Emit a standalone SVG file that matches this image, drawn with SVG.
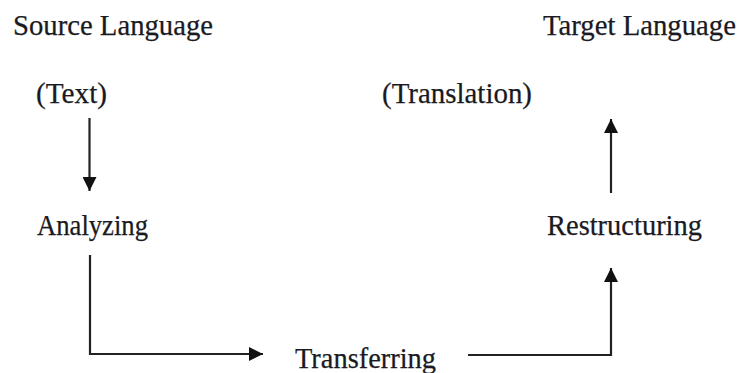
<svg xmlns="http://www.w3.org/2000/svg" width="740" height="373" viewBox="0 0 740 373">
<defs>
<style>
.lbl{font-family:"Liberation Serif","Times New Roman",serif;font-size:29px;fill:#1a1a22;stroke:#1a1a22;stroke-width:0.25;}
.conn{fill:none;stroke:#222;stroke-width:2.2;}
</style>
<marker id="ah2" viewBox="0 0 10 10" refX="10" refY="5" markerWidth="14" markerHeight="14" markerUnits="userSpaceOnUse" orient="auto">
<path d="M0,0 L10,5 L0,10 z" fill="#111"/>
</marker>
</defs>
<rect width="740" height="373" fill="#fff"/>
<g id="source-language"><text class="lbl" x="13" y="35" textLength="200" lengthAdjust="spacingAndGlyphs">Source Language</text></g>
<g id="target-language"><text class="lbl" x="543" y="35" textLength="193" lengthAdjust="spacingAndGlyphs">Target Language</text></g>
<g id="text"><text class="lbl" x="36" y="103" textLength="71" lengthAdjust="spacingAndGlyphs">(Text)</text></g>
<g id="translation"><text class="lbl" x="382" y="103" textLength="150" lengthAdjust="spacingAndGlyphs">(Translation)</text></g>
<g id="analyzing"><text class="lbl" x="37" y="235" textLength="111" lengthAdjust="spacingAndGlyphs">Analyzing</text></g>
<g id="restructuring"><text class="lbl" x="547" y="235" textLength="155" lengthAdjust="spacingAndGlyphs">Restructuring</text></g>
<g id="transferring"><text class="lbl" x="295" y="368" textLength="141" lengthAdjust="spacingAndGlyphs">Transferring</text></g>
<g id="connectors">
<path class="conn" d="M89.5,118 V191" marker-end="url(#ah2)"/>
<path class="conn" d="M90,255 V354 H263" marker-end="url(#ah2)"/>
<path class="conn" d="M468,355 H611 V268" marker-end="url(#ah2)"/>
<path class="conn" d="M611,193 V119" marker-end="url(#ah2)"/>
</g>
</svg>
